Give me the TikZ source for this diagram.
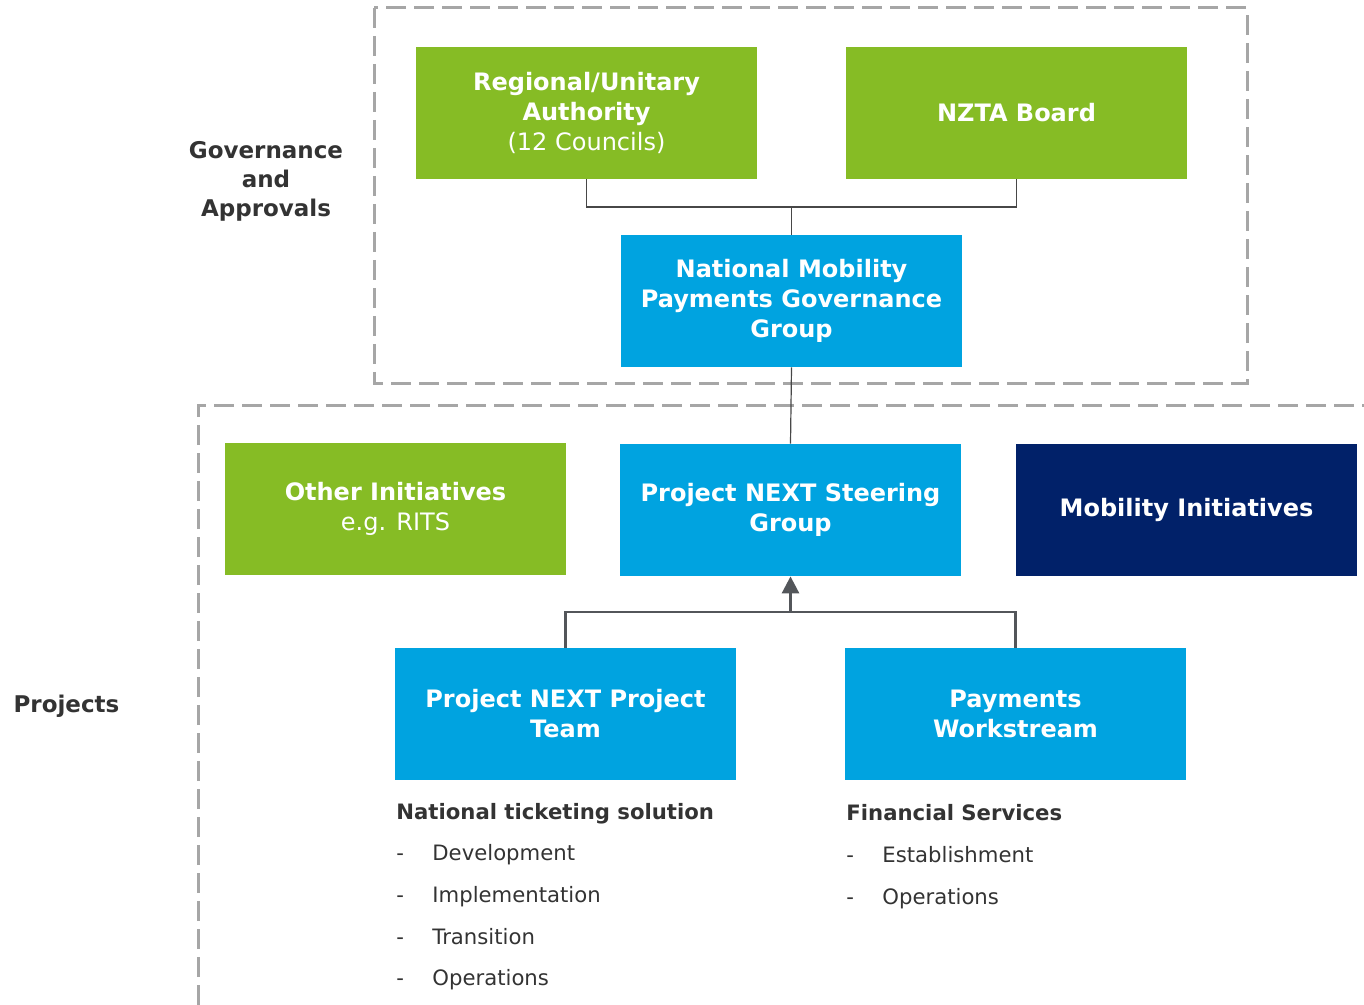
\documentclass[tikz,border=0pt]{standalone}
\usepackage{fontspec}
\setmainfont{DejaVu Sans}
\usetikzlibrary{arrows.meta}

\definecolor{dgreen}{HTML}{86BC25}
\definecolor{dblue}{HTML}{00A3E0}
\definecolor{dnavy}{HTML}{012169}
\definecolor{dashgray}{HTML}{A6A6A6}
\definecolor{txtgray}{HTML}{333333}
\definecolor{linkgray}{HTML}{53565A}

\newcommand{\boxfont}{\fontsize{12}{15}\selectfont\bfseries}
\newcommand{\listfont}{\fontsize{10.6}{13}\selectfont}

\begin{document}
\begin{tikzpicture}[x=0.5pt, y=-0.5pt,
    orgbox/.style={minimum width=170.5pt, minimum height=66pt, inner sep=0pt,
      text=white, align=center, font=\boxfont},
    greenbox/.style={orgbox, fill=dgreen},
    bluebox/.style={orgbox, fill=dblue},
    navybox/.style={orgbox, fill=dnavy},
    area/.style={draw=dashgray, line width=1.5pt, dash pattern=on 10pt off 4pt},
    thinlink/.style={draw=txtgray!90, line width=0.6pt},
    feedlink/.style={draw=linkgray, line width=1.4pt},
    side/.style={text=txtgray, align=center, font=\fontsize{11.5}{14.5}\selectfont\bfseries},
    item/.style={anchor=base west, text=txtgray, inner sep=0pt, font=\listfont}]
  \useasboundingbox (0, 0) rectangle (1364, 1005);

  % dashed areas
  \draw [area] (374, 8) rectangle (1247, 383);
  \draw [area] (198, 1005) -- (198, 405) -- (1364, 405);

  % side labels
  \node [side] (govlabel) at (266, 181.5) {Governance\\and\\Approvals};
  \node [side] (projlabel) at (66.5, 706) {Projects};

  % governance boxes
  \node [greenbox] (reg) at (586.5, 113)
    {Regional/Unitary\\Authority\\{\mdseries (12 Councils)}};
  \node [greenbox] (nzta) at (1016.5, 113) {NZTA Board};
  \node [bluebox] (nmpg) at (791.5, 301)
    {National Mobility\\Payments Governance\\Group};

  % project level boxes
  \node [greenbox] (other) at (395.5, 509)
    {Other Initiatives\\{\mdseries e.g. RITS}};
  \node [bluebox] (steer) at (790.5, 510) {Project NEXT Steering\\Group};
  \node [navybox] (mobil) at (1186.5, 510) {Mobility Initiatives};
  \node [bluebox] (team) at (565.5, 714) {Project NEXT Project\\Team};
  \node [bluebox] (pay) at (1015.5, 714) {Payments\\Workstream};

  % connectors
  \coordinate (gov) at (791.5, 207);
  \draw [thinlink] (reg.south) |- (gov) -| (nzta.south);
  \draw [thinlink] (gov) -- (nmpg.north);
  \draw [thinlink] (nmpg.south) -- (steer.north);

  \coordinate (proj) at (790.5, 612);
  \draw [feedlink] (team.north) |- (proj) -| (pay.north);
  \draw [feedlink, -{Triangle[width=8.5pt, length=8.5pt]}] (proj) -- (steer.south);

  % work lists under the project boxes
  \node [item, font=\listfont\bfseries] (ticket) at (396, 819)
    {National ticketing solution};
  \node [item] (tdash1) at (396, 860) {-};
  \node [item] (tdev) at (432, 860) {Development};
  \node [item] (tdash2) at (396, 902) {-};
  \node [item] (timpl) at (432, 902) {Implementation};
  \node [item] (tdash3) at (396, 944) {-};
  \node [item] (ttrans) at (432, 944) {Transition};
  \node [item] (tdash4) at (396, 985) {-};
  \node [item] (tops) at (432, 985) {Operations};

  \node [item, font=\listfont\bfseries] (finance) at (846, 820)
    {Financial Services};
  \node [item] (fdash1) at (846, 862) {-};
  \node [item] (fest) at (882, 862) {Establishment};
  \node [item] (fdash2) at (846, 904) {-};
  \node [item] (fops) at (882, 904) {Operations};
\end{tikzpicture}
\end{document}
